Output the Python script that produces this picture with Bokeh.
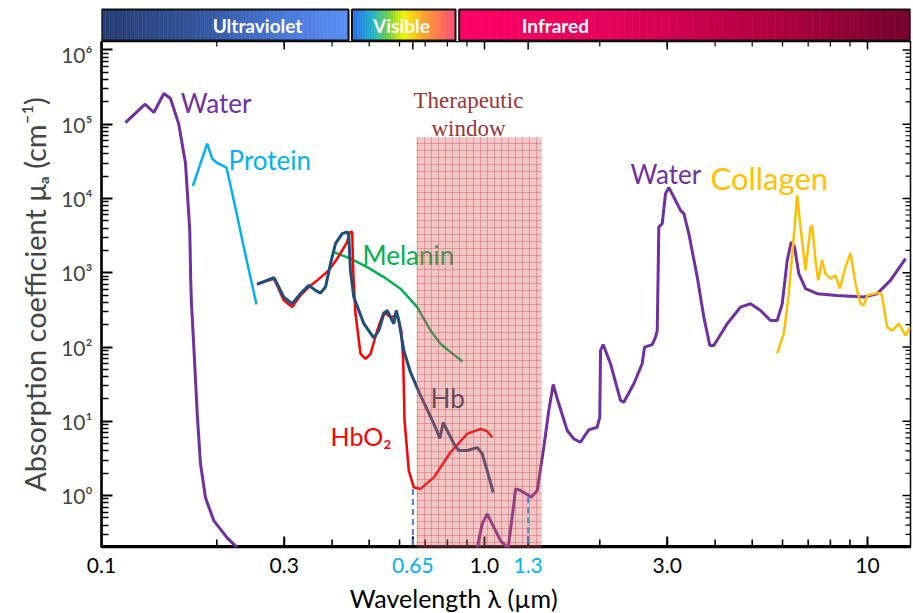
import numpy as np
from bokeh.plotting import figure
from bokeh.models import Range1d, FixedTicker, ColumnDataSource
from bokeh.layouts import column
from bokeh.embed import file_html
from bokeh.resources import INLINE
from bokeh.core.properties import value

# ---------------- data (wavelength in µm, absorption in cm^-1) ----------------
water_uv_x = [0.1155, 0.130, 0.137, 0.1455, 0.1514, 0.159, 0.1657, 0.170, 0.1710, 0.1716,
              0.1742, 0.1778, 0.1813, 0.1868, 0.1964, 0.2129, 0.226]
water_uv_y = [1.05e5, 1.86e5, 1.44e5, 2.59e5, 2.22e5, 1.02e5, 2.98e4, 3730, 790, 425,
              100, 12.7, 2.7, 0.94, 0.46, 0.27, 0.199]

water_ir_x = [0.955, 0.960, 0.986, 1.016, 1.047, 1.101, 1.146, 1.150, 1.155, 1.193, 1.205, 1.242,
              1.305, 1.324, 1.373, 1.428, 1.472, 1.511, 1.563, 1.644, 1.711, 1.781, 1.816, 1.872,
              1.969, 2.000, 2.009, 2.041, 2.133, 2.265, 2.311, 2.454, 2.580, 2.617, 2.741, 2.796,
              2.825, 2.852, 2.911, 2.969, 3.029, 3.121, 3.250, 3.315, 3.416, 3.593, 3.738, 3.875,
              3.969, 4.302, 4.660, 4.950, 5.256, 5.581, 5.810, 5.989, 6.171, 6.322, 6.449, 6.617,
              6.889, 7.390, 8.335, 9.779, 10.60, 11.48, 12.57]
water_ir_y = [0.18, 0.212, 0.416, 0.567, 0.416, 0.248, 0.201, 0.18, 0.212, 0.773, 1.23, 1.17,
              1.0, 0.95, 1.17, 4.48, 14.0, 31.3, 17.2, 7.52, 5.81, 5.23, 6.11, 7.68,
              8.33, 11.4, 90, 108, 59.6, 19.1, 18.1, 32.0, 59.6, 99.7, 108, 136,
              167, 4130, 4590, 11640, 14030, 10480, 6930, 6260, 3365, 875, 253, 105,
              105, 206, 345, 383, 311, 228, 228, 383, 1470, 2594, 2220, 972,
              611, 523, 496, 471, 523, 790, 1549]

protein_x = [0.1732, 0.1888, 0.1945, 0.2004, 0.2120, 0.2215, 0.2352, 0.2539]
protein_y = [14740, 54950, 34500, 30100, 26100, 9460, 2220, 375]

hbo2_x = [0.2549, 0.2818, 0.2875, 0.2992, 0.3147, 0.3308, 0.3477, 0.3658, 0.3922, 0.4124,
          0.4380, 0.4449, 0.4514, 0.4541, 0.4604, 0.4746, 0.4891, 0.5041, 0.5247, 0.5459,
          0.5684, 0.5918, 0.6062, 0.6135, 0.6183, 0.6344, 0.6537, 0.6806, 0.7375, 0.8151,
          0.9012, 0.9763, 1.016, 1.047]
hbo2_y = [713, 832, 676, 425, 345, 496, 642, 790, 1077, 1549,
          2594, 3540, 3540, 1077, 281, 81.2, 69.5, 81.2, 167, 295,
          253, 267, 167, 65.9, 10.3, 2.17, 1.29, 1.23, 1.76, 3.83,
          6.78, 7.92, 7.36, 6.11]

hb_x = [0.2549, 0.2818, 0.2846, 0.2992, 0.3147, 0.3308, 0.3477, 0.3620, 0.3731, 0.3845,
        0.3962, 0.4083, 0.4250, 0.4380, 0.4422, 0.4467, 0.4557, 0.4842, 0.5140, 0.5297,
        0.5459, 0.5571, 0.5741, 0.5797, 0.5882, 0.5974, 0.6157, 0.6409, 0.6806, 0.7228,
        0.7450, 0.7644, 0.7803, 0.7990, 0.8317, 0.8568, 0.9012, 0.9570, 0.9863, 1.016, 1.054]
hb_y = [698, 859, 790, 471, 383, 523, 676, 579, 533, 642,
        1327, 2466, 3365, 3540, 3190, 1077, 471, 206, 133, 167,
        281, 311, 228, 206, 311, 228, 90, 45.5, 22.3, 11.6,
        8.25, 5.87, 9.64, 7.52, 5.02, 4.04, 4.04, 4.43, 3.68, 2.17, 1.10]

melanin_x = [0.4042, 0.4467, 0.4941, 0.5459, 0.6035, 0.6672, 0.7228, 0.7676, 0.8151, 0.8762]
melanin_y = [1901, 1549, 1194, 875, 611, 345, 167, 111, 85.4, 64]

collagen_x = [5.810, 6.046, 6.230, 6.397, 6.553, 6.685, 6.889, 7.098, 7.170, 7.314, 7.434,
              7.615, 7.768, 8.006, 8.250, 8.467, 8.762, 9.029, 9.304, 9.588, 9.779, 9.982,
              10.60, 10.88, 11.03, 11.26, 11.60, 12.07, 12.57, 12.95]
collagen_y = [82.8, 151, 523, 2466, 11040, 4130, 1077, 4130, 4355, 1470, 790,
              1470, 972, 832, 923, 611, 1194, 1844, 713, 383, 364, 496,
              533, 523, 345, 185, 167, 206, 143, 185]

# therapeutic window and its marked limits
window_x = [0.665, 1.41]
window_top = 6.7e4
window_limits = [0.65, 1.3]
window_limit_y = [1.23, 0.95]

# spectral bands (top bar)
band_names = ["Ultraviolet", "Visible", "Infrared"]
band_start = [0.1, 0.4508, 0.859]
band_end = [0.4415, 0.840, 12.95]

# tick labels
x_ticks = [0.1, 0.3, 0.65, 1.0, 1.3, 3.0, 10]
x_tick_labels = ["0.1", "0.3", "0.65", "1.0", "1.3", "3.0", "10"]
y_ticks = [1, 10, 100, 1000, 10000, 100000, 1000000]
y_tick_labels = ["10⁰", "10¹", "10²", "10³", "10⁴", "10⁵", "10⁶"]

# ---------------- style / layout ----------------
FONT = "Lato"
X_MIN, X_MAX = 0.1, 12.95
Y_MIN, Y_MAX = 0.2, 1.3e6
W = 913
LEFT = 101
RIGHT = 3
H_TOP, H_MAIN, H_BOTTOM = 41, 508, 64
FRAME_W = W - LEFT - RIGHT
FRAME_H = H_MAIN - 2
PX_DEC_X = FRAME_W / np.log10(X_MAX / X_MIN)   # screen pixels per decade
PX_DEC_Y = FRAME_H / np.log10(Y_MAX / Y_MIN)

x_range = Range1d(X_MIN, X_MAX)

# ---------------- top spectral bar ----------------
pt = figure(width=W, height=H_TOP, x_axis_type="log", x_range=x_range, y_range=Range1d(0, 41),
            output_backend="svg", toolbar_location=None, x_axis_location=None,
            y_axis_location=None, min_border_left=LEFT, min_border_right=RIGHT,
            min_border_top=0, min_border_bottom=0)
pt.grid.visible = False
pt.outline_line_color = None
pt.background_fill_color = "white"
pt.border_fill_color = "white"


def hex2rgb(h):
    h = h.lstrip("#")
    return [int(h[i:i + 2], 16) for i in (0, 2, 4)]


def interp(stops, t):
    pos = [s[0] for s in stops]
    cols = [hex2rgb(s[1]) for s in stops]
    rgb = [int(round(np.interp(t, pos, [c[k] for c in cols]))) for k in range(3)]
    return "#%02x%02x%02x" % tuple(rgb)


gradients = [
    [(0.0, "#263d72"), (0.4, "#33559e"), (0.75, "#4a78dc"), (1.0, "#5b8ff7")],
    [(0.0, "#2d68e6"), (0.2, "#1fb3cc"), (0.36, "#74d040"), (0.5, "#f2f500"),
     (0.72, "#ff9a30"), (1.0, "#ff4b78")],
    [(0.0, "#ff0066"), (0.35, "#e4005a"), (0.7, "#b00040"), (1.0, "#75002f")],
]

gl, gr, gc = [], [], []
N = 60
for a, b, stops in zip(band_start, band_end, gradients):
    edges = np.logspace(np.log10(a), np.log10(b), N + 1)
    for i in range(N):
        gl.append(edges[i])
        gr.append(edges[i + 1])
        gc.append(interp(stops, (i + 0.5) / N))
pt.quad(left=gl, right=gr, bottom=1, top=32, fill_color=gc, line_color=gc, line_width=0.6)
pt.quad(left=band_start, right=band_end, bottom=1, top=32, fill_color=None,
        line_color="#111111", line_width=2)
pt.text(x=[0.2555, 0.607, 1.532], y=[16.5, 16.5, 16.5], text=band_names, text_color="white",
        text_font=value(FONT), text_font_style="bold", text_font_size="19px",
        text_align="center", text_baseline="middle")

# ---------------- main plot ----------------
p = figure(width=W, height=H_MAIN, x_axis_type="log", y_axis_type="log", x_range=x_range,
           y_range=Range1d(Y_MIN, Y_MAX), output_backend="svg", toolbar_location=None,
           x_axis_location=None, min_border_left=LEFT, min_border_right=RIGHT,
           min_border_top=0, min_border_bottom=2)
p.grid.visible = False
p.outline_line_color = "black"
p.outline_line_width = 1.5
p.background_fill_color = "white"
p.border_fill_color = "white"

x_minor = [m * 10.0 ** e for e in (-1, 0, 1) for m in range(2, 10) if m * 10.0 ** e < X_MAX]
y_minor = [m * 10.0 ** e for e in range(-1, 6) for m in range(2, 10)
           if Y_MIN < m * 10.0 ** e < Y_MAX]

ya = p.yaxis[0]
ya.ticker = FixedTicker(ticks=y_ticks, minor_ticks=y_minor)
ya.major_label_overrides = dict(zip(y_ticks, y_tick_labels))
ya.major_tick_in = 11
ya.major_tick_out = 0
ya.minor_tick_in = 7
ya.minor_tick_out = 0
ya.major_tick_line_width = 2
ya.minor_tick_line_width = 1.5
ya.axis_line_width = 2.5
ya.major_label_text_font = FONT
ya.major_label_text_font_size = "21px"
ya.major_label_standoff = 9
ya.axis_label = "Absorption coefficient μₐ (cm⁻¹)"
ya.axis_label_text_font = FONT
ya.axis_label_text_font_size = "29px"
ya.axis_label_text_font_style = "normal"
ya.axis_label_standoff = 6


def up(y, px):
    return y * 10 ** (px / PX_DEC_Y)


def left_of(x, px):
    return x / 10 ** (px / PX_DEC_X)


# x axis: thick bottom line, inward ticks at bottom and top, inward ticks on right edge
p.segment(x0=[X_MIN], y0=[Y_MIN], x1=[X_MAX], y1=[Y_MIN], line_color="black", line_width=5)
p.segment(x0=x_ticks, y0=[Y_MIN] * len(x_ticks), x1=x_ticks,
          y1=[up(Y_MIN, 11)] * len(x_ticks), line_color="black", line_width=2)
p.segment(x0=x_minor, y0=[Y_MIN] * len(x_minor), x1=x_minor,
          y1=[up(Y_MIN, 8)] * len(x_minor), line_color="black", line_width=1.6)
p.segment(x0=x_ticks, y0=[Y_MAX] * len(x_ticks), x1=x_ticks,
          y1=[up(Y_MAX, -8)] * len(x_ticks), line_color="black", line_width=1.5)
p.segment(x0=x_minor, y0=[Y_MAX] * len(x_minor), x1=x_minor,
          y1=[up(Y_MAX, -5)] * len(x_minor), line_color="black", line_width=1.2)
p.segment(x0=[X_MAX] * len(y_ticks), y0=y_ticks, x1=[left_of(X_MAX, 8)] * len(y_ticks),
          y1=y_ticks, line_color="black", line_width=1.5)
p.segment(x0=[X_MAX] * len(y_minor), y0=y_minor, x1=[left_of(X_MAX, 5)] * len(y_minor),
          y1=y_minor, line_color="black", line_width=1.2)

# curves
p.line(water_uv_x, water_uv_y, line_color="#7030a0", line_width=3)
p.line(water_ir_x, water_ir_y, line_color="#7030a0", line_width=3)
p.line(protein_x, protein_y, line_color="#00b0f0", line_width=2.5)
p.line(melanin_x, melanin_y, line_color="#00b050", line_width=2.5)
p.line(hbo2_x, hbo2_y, line_color="#ff0000", line_width=2.5)
p.line(hb_x, hb_y, line_color="#1f4e79", line_width=3)
p.line(collagen_x, collagen_y, line_color="#ffc000", line_width=2.5)

# curve names
names = ColumnDataSource(dict(
    x=[0.161, 0.2146, 0.480, 0.7228, 0.3962, 2.405, 3.891],
    y=[1.92e5, 3.27e4, 1716, 20.9, 6.44, 2.12e4, 1.87e4],
    text=["Water", "Protein", "Melanin", "Hb", "HbO₂", "Water", "Collagen"],
    color=["#7030a0", "#00b0f0", "#00b050", "#1f3f6e", "#ff0000", "#7030a0", "#ffc000"],
    size=["26px", "26px", "26px", "26px", "25px", "26px", "31px"],
))
p.text(x="x", y="y", text="text", text_color="color", text_font_size="size", source=names,
       text_font=value(FONT), text_align="left", text_baseline="middle")

# therapeutic window
p.quad(left=[window_x[0]], right=[window_x[1]], bottom=[Y_MIN * 0.5], top=[window_top],
       fill_color="#d86060", fill_alpha=0.36, line_color=None,
       hatch_pattern="+", hatch_color="#c02020", hatch_alpha=0.28, hatch_scale=7,
       hatch_weight=1)
p.segment(x0=window_limits, y0=window_limit_y, x1=window_limits, y1=[Y_MIN * 0.5] * 2,
          line_color="#4f86b8", line_width=2, line_dash="6 4")
p.text(x=[0.908, 0.908], y=[2.1e5, 8.83e4], text=["Therapeutic", "window"],
       text_color="#953735", text_font=value("Liberation Serif"), text_font_size="23px",
       text_align="center", text_baseline="middle")

# ---------------- x tick labels and axis title (strip below the frame) ----------------
pb = figure(width=W, height=H_BOTTOM, x_axis_type="log", output_backend="svg",
            toolbar_location=None, x_axis_location=None, y_axis_location=None,
            min_border=0)
full_frame = True
try:
    pb.frame_align = False
except Exception:
    full_frame = False

if full_frame:
    bx0 = 10 ** (np.log10(X_MIN) - LEFT / PX_DEC_X)
    bx1 = 10 ** (np.log10(X_MAX) + RIGHT / PX_DEC_X)
    pb.x_range = Range1d(bx0, bx1)
    edge_align = ["center"] * len(x_ticks)
else:
    pb.x_range = x_range
    edge_align = ["left"] + ["center"] * (len(x_ticks) - 1)
pb.y_range = Range1d(0, H_BOTTOM)
pb.grid.visible = False
pb.outline_line_color = None
pb.background_fill_color = "white"
pb.border_fill_color = "white"
tick_colors = ["#00b0f0" if t in window_limits else "black" for t in x_ticks]
pb.text(x=x_ticks, y=[48] * len(x_ticks), text=x_tick_labels, text_color=tick_colors,
        text_align=edge_align, text_font=value(FONT), text_font_size="21px",
        text_baseline="middle")
pb.text(x=[0.83], y=[16], text=["Wavelength λ (µm)"], text_color="black",
        text_font=value(FONT), text_font_size="25px", text_align="center",
        text_baseline="middle")

layout = column(pt, p, pb, spacing=0)
open("out.html", "w").write(file_html(layout, INLINE))
